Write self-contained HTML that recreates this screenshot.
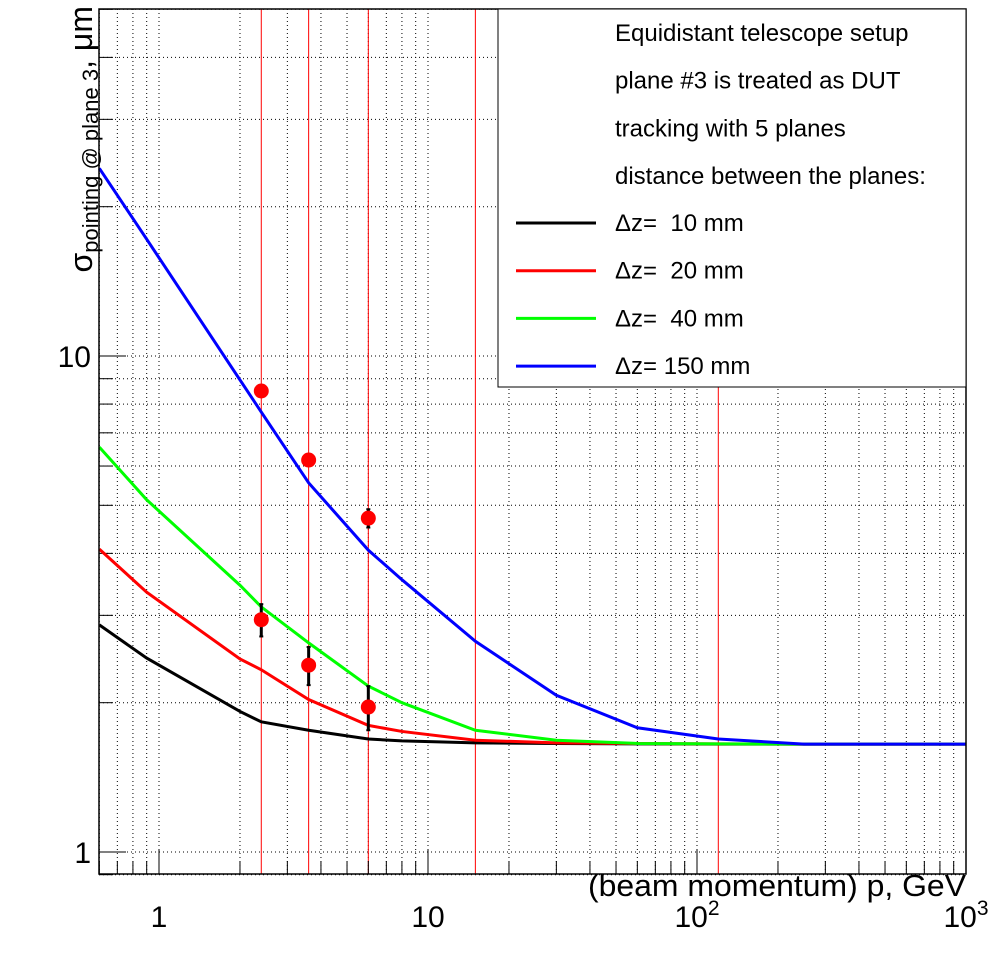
<!DOCTYPE html>
<html><head><meta charset="utf-8"><style>
body{margin:0;background:#fff}
svg{display:block;font-family:"Liberation Sans",sans-serif}
text{white-space:pre}
</style></head><body>
<svg id="c" width="996" height="972" xmlns="http://www.w3.org/2000/svg"></svg>
<script>
const momenta=[0.6,0.9,2,2.4,3.6,6,8,15,30,60,120,250,1000];
const dz10=[2.87,2.46,1.92,1.83,1.76,1.69,1.675,1.66,1.655,1.652,1.65,1.65,1.65];
const dz20=[4.08,3.34,2.45,2.33,2.03,1.80,1.75,1.68,1.66,1.655,1.652,1.65,1.65];
const dz40=[6.55,5.13,3.45,3.12,2.64,2.16,2.0,1.76,1.68,1.655,1.652,1.65,1.65];
const dz150=[23.9,17.2,8.95,7.71,5.55,4.06,3.54,2.66,2.07,1.78,1.69,1.65,1.65];
const seriesNames=["\u0394z=  10 mm","\u0394z=  20 mm","\u0394z=  40 mm","\u0394z= 150 mm"];
const seriesColors=["#000","#f00","#0f0","#00f"];
const measP=[2.4,3.6,6,2.4,3.6,6];
const measV=[8.5,6.17,4.71,2.94,2.38,1.96];
const measE=[0.05,0.1,0.2,0.22,0.21,0.2];
const markerP=[2.4,3.6,6,15,120];
const xTickBase=["1","10","10","10"];
const xTickExp=["","","2","3"];
const yTickLabels=["1","10"];

const L=99,R=966,T=9,B=874;
const X=p=>159+269*Math.log10(p);
const Y=v=>852-496*Math.log10(v);
const svg=document.getElementById('c');
const NS="http://www.w3.org/2000/svg";
function mk(tag,attrs,parent){const e=document.createElementNS(NS,tag);for(const k in attrs)e.setAttribute(k,attrs[k]);(parent||svg).appendChild(e);return e;}

const grid=mk('g',{});


for(let d=-1;d<3;d++)for(let m=1;m<10;m++){const p=m*Math.pow(10,d);if(p<0.6||p>=1000)continue;const x=X(p);
 mk('line',{x1:x,x2:x,y1:T,y2:B,stroke:'#000','stroke-width':1,'stroke-dasharray':'1,3'},grid);}
for(let d=-1;d<2;d++)for(let m=1;m<10;m++){const v=m*Math.pow(10,d);if(v<0.9||v>50)continue;const y=Y(v);
 mk('line',{x1:L,x2:R,y1:y,y2:y,stroke:'#000','stroke-width':1,'stroke-dasharray':'1,3'},grid);}
markerP.forEach(p=>{const l=mk('line',{x1:X(p),x2:X(p),y1:T,y2:B,stroke:'#f00','stroke-width':1});
 
 });
const ticks=mk('g',{stroke:'#000','stroke-width':1});
for(let d=-1;d<3;d++)for(let m=1;m<10;m++){const p=m*Math.pow(10,d);if(p<0.6||p>1000)continue;const x=X(p);
 mk('line',{x1:x,x2:x,y1:B,y2:B-(m==1?25:13)},ticks);}
for(let d=-1;d<2;d++)for(let m=1;m<10;m++){const v=m*Math.pow(10,d);if(v<0.9||v>50)continue;const y=Y(v);
 mk('line',{x1:L,x2:L+(m==1?27:14),y1:y,y2:y},ticks);}
[dz10,dz20,dz40,dz150].forEach((s,i)=>{
 const pl=mk('polyline',{points:momenta.map((p,j)=>X(p)+','+Y(s[j])).join(' '),fill:'none',stroke:seriesColors[i],'stroke-width':3});
 
 
});
measP.forEach((p,i)=>{const g=mk('g',{});
 
 
 const x=X(p),y1=Y(measV[i]+measE[i]),y2=Y(measV[i]-measE[i]);
 mk('line',{x1:x,x2:x,y1:y1,y2:y2,stroke:'#000','stroke-width':3},g);
 mk('line',{x1:x-2,x2:x+2,y1:y1,y2:y1,stroke:'#000','stroke-width':2},g);
 mk('line',{x1:x-2,x2:x+2,y1:y2,y2:y2,stroke:'#000','stroke-width':2},g);
 mk('circle',{cx:x,cy:Y(measV[i]),r:7.5,fill:'#f00'},g);});
const fr=mk('rect',{x:L,y:T,width:R-L,height:B-T,fill:'none',stroke:'#000','stroke-width':1.5});


[1,10,100,1000].forEach((p,i)=>{const t=mk('text',{x:X(p),y:927,'font-size':30,'text-anchor':'middle'});
 t.textContent=xTickBase[i];
 if(xTickExp[i]){const s=mk('tspan',{'font-size':21,dy:-12},t);s.textContent=xTickExp[i];}
 
 });
[1,10].forEach((v,i)=>{const t=mk('text',{x:91,y:Y(v)+11,'font-size':30,'text-anchor':'end'});t.textContent=yTickLabels[i];
 
 });
const lg=mk('g',{});


mk('rect',{x:498,y:9,width:468,height:378,fill:'#fff',stroke:'#000','stroke-width':1},lg);
["Equidistant telescope setup","plane #3 is treated as DUT","tracking with 5 planes","distance between the planes:"].forEach((s,i)=>{
 const t=mk('text',{x:615,y:41+i*47.7,'font-size':24},lg);t.textContent=s;});
seriesNames.forEach((s,i)=>{const y=223+i*47.7;
 const e=mk('g',{},lg);
 
 
 mk('line',{x1:516,x2:596,y1:y,y2:y,stroke:seriesColors[i],'stroke-width':3},e);
 const t=mk('text',{x:615,y:y+8,'font-size':24},e);t.textContent=s;});
</script>
<svg style="position:absolute;left:0;top:0" width="996" height="972" xmlns="http://www.w3.org/2000/svg" font-family="Liberation Sans, sans-serif">
<text x="966" y="896" font-size="31" text-anchor="end" textLength="378" lengthAdjust="spacingAndGlyphs">(beam momentum) p, GeV</text>
<text transform="translate(92,6) rotate(-90)" text-anchor="end" font-size="32">σ<tspan font-size="22" dy="6">pointing @ plane 3</tspan><tspan dy="-6">, μm</tspan></text>
</svg>
</body></html>
